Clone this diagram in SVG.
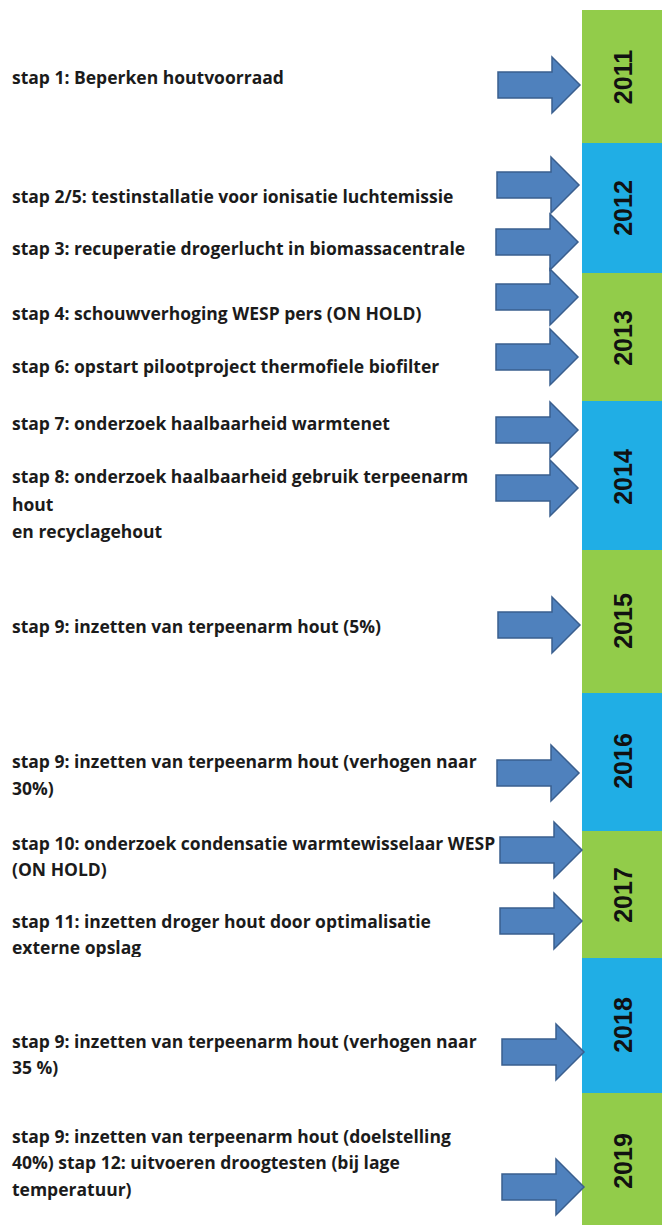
<svg xmlns="http://www.w3.org/2000/svg" xmlns:xlink="http://www.w3.org/1999/xlink" width="662" height="1225" viewBox="0 0 662 1225">
<style>
.step{font-family:"Open Sans","Liberation Sans",sans-serif;font-weight:700;font-size:17.5px;fill:#1b1b1b}
.year{font-family:"Liberation Sans",Arial,sans-serif;font-weight:700;font-size:25px;fill:#111;text-anchor:middle}
.g{fill:#92CC4A}
.b{fill:#20AEE5}
.arr{fill:#4F81BD;stroke:#3A5F8E;stroke-width:1.5;stroke-linejoin:miter}
</style>
<defs>
<path id="arrow" class="arr" d="M0,-13 H54 V-28 L82,0 L54,28 V13 H0 Z"/>
<clipPath id="clip11"><rect x="0" y="900" width="560" height="57"/></clipPath>
</defs>
<rect width="662" height="1225" fill="#fff"/>
<g id="years">
<g id="y2011"><rect class="g" x="582" y="10" width="80" height="133"/><text class="year" transform="translate(632,77) rotate(-90)">2011</text></g>
<g id="y2012"><rect class="b" x="582" y="143" width="80" height="130"/><text class="year" transform="translate(632,208) rotate(-90)">2012</text></g>
<g id="y2013"><rect class="g" x="582" y="273" width="80" height="128"/><text class="year" transform="translate(632,338) rotate(-90)">2013</text></g>
<g id="y2014"><rect class="b" x="582" y="401" width="80" height="149"/><text class="year" transform="translate(632,477) rotate(-90)">2014</text></g>
<g id="y2015"><rect class="g" x="582" y="550" width="80" height="143"/><text class="year" transform="translate(632,621) rotate(-90)">2015</text></g>
<g id="y2016"><rect class="b" x="582" y="693" width="80" height="138"/><text class="year" transform="translate(632,761) rotate(-90)">2016</text></g>
<g id="y2017"><rect class="g" x="582" y="831" width="80" height="127"/><text class="year" transform="translate(632,895) rotate(-90)">2017</text></g>
<g id="y2018"><rect class="b" x="582" y="958" width="80" height="135"/><text class="year" transform="translate(632,1025) rotate(-90)">2018</text></g>
<g id="y2019"><rect class="g" x="582" y="1093" width="80" height="132"/><text class="year" transform="translate(632,1161) rotate(-90)">2019</text></g>
</g>
<g id="connectors">
<use xlink:href="#arrow" href="#arrow" x="498" y="85"/>
<use xlink:href="#arrow" href="#arrow" x="497" y="185"/>
<use xlink:href="#arrow" href="#arrow" x="496" y="242"/>
<use xlink:href="#arrow" href="#arrow" x="496" y="297"/>
<use xlink:href="#arrow" href="#arrow" x="496" y="357"/>
<use xlink:href="#arrow" href="#arrow" x="496" y="430"/>
<use xlink:href="#arrow" href="#arrow" x="496" y="488"/>
<use xlink:href="#arrow" href="#arrow" x="498" y="625"/>
<use xlink:href="#arrow" href="#arrow" x="497" y="773"/>
<use xlink:href="#arrow" href="#arrow" x="500" y="850"/>
<use xlink:href="#arrow" href="#arrow" x="500" y="921"/>
<use xlink:href="#arrow" href="#arrow" x="502" y="1052"/>
<use xlink:href="#arrow" href="#arrow" x="502" y="1187"/>
</g>
<g id="steps">
<g id="s1"><text class="step" x="12" y="84">stap 1: Beperken houtvoorraad</text></g>
<g id="s2"><text class="step" x="12" y="203">stap 2/5: testinstallatie voor ionisatie luchtemissie</text></g>
<g id="s3"><text class="step" x="12" y="255">stap 3: recuperatie drogerlucht in biomassacentrale</text></g>
<g id="s4"><text class="step" x="12" y="320">stap 4: schouwverhoging WESP pers (ON HOLD)</text></g>
<g id="s6"><text class="step" x="12" y="373">stap 6: opstart pilootproject thermofiele biofilter</text></g>
<g id="s7"><text class="step" x="12" y="430">stap 7: onderzoek haalbaarheid warmtenet</text></g>
<g id="s8"><text class="step" x="12" y="483">stap 8: onderzoek haalbaarheid gebruik terpeenarm</text><text class="step" x="12" y="511">hout</text><text class="step" x="12" y="538">en recyclagehout</text></g>
<g id="s9a"><text class="step" x="12" y="633">stap 9: inzetten van terpeenarm hout (5%)</text></g>
<g id="s9b"><text class="step" x="12" y="768">stap 9: inzetten van terpeenarm hout (verhogen naar</text><text class="step" x="12" y="795">30%)</text></g>
<g id="s10"><text class="step" x="12" y="850">stap 10: onderzoek condensatie warmtewisselaar WESP</text><text class="step" x="12" y="876">(ON HOLD)</text></g>
<g id="s11" clip-path="url(#clip11)"><text class="step" x="12" y="928">stap 11: inzetten droger hout door optimalisatie</text><text class="step" x="12" y="954">externe opslag</text></g>
<g id="s9c"><text class="step" x="12" y="1048">stap 9: inzetten van terpeenarm hout (verhogen naar</text><text class="step" x="12" y="1074">35 %)</text></g>
<g id="s9d"><text class="step" x="12" y="1143">stap 9: inzetten van terpeenarm hout (doelstelling</text><text class="step" x="12" y="1169">40%) stap 12: uitvoeren droogtesten (bij lage</text><text class="step" x="12" y="1196">temperatuur)</text></g>
</g>
</svg>
